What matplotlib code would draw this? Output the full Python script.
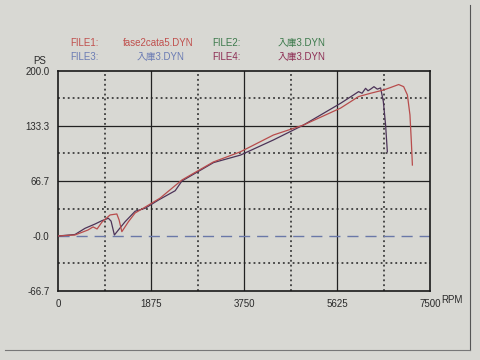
import matplotlib
matplotlib.use("Agg")
import matplotlib.pyplot as plt
from matplotlib.lines import Line2D

plt.rcParams['font.family'] = ['Liberation Sans', 'Noto Sans CJK JP', 'DejaVu Sans']

# ---- data ----
file1_rpm = [0, 343, 606, 707, 788, 889, 1050, 1186, 1232, 1287, 1420, 1555, 1757, 2060,
             2499, 3131, 3676, 4343, 4949, 5696, 6060, 6302, 6565, 6706, 6868, 6969,
             7044, 7096, 7124, 7145]
file1_ps = [0, 1.2, 7.3, 11, 8.5, 17, 25.5, 26.7, 19.4, 5.2, 17.3, 27.9, 35, 46,
            67.9, 89.7, 102, 122.4, 134.5, 155, 169, 173, 177, 180, 183.6, 181,
            171, 146.7, 114, 86]

file4_rpm = [0, 343, 545, 747, 883, 1016, 1070, 1137, 1218, 1353, 1555, 1757, 2026, 2363,
             2499, 3137, 3676, 4343, 4949, 5696, 5959, 6060, 6130, 6201, 6250, 6302,
             6370, 6437, 6504, 6559, 6605, 6640]
file4_ps = [0, 1.8, 9.3, 14.5, 18.5, 21.5, 18, 1.2, 7.3, 17.3, 30, 33.6, 43.6, 54.9,
            66.7, 89, 98, 116.4, 134.5, 160.8, 171, 175, 173, 179, 176, 178,
            181, 178, 179.5, 163, 134.5, 102]

x_ticks = [0, 1875, 3750, 5625, 7500]
x_labels = ["0", "1875", "3750", "5625", "7500"]
y_ticks = [-66.7, 0, 66.7, 133.3, 200.0]
y_labels = ["-66.7", "-0.0", "66.7", "133.3", "200.0"]

legend_names = ["FILE1:", "FILE2:", "FILE3:", "FILE4:"]
legend_files = ["fase2cata5.DYN", "入庫3.DYN", "入庫3.DYN", "入庫3.DYN"]

# ---- style ----
bg = '#d8d8d3'
c_red = '#b84c4c'
c_dark = '#4c3358'
leg_colors = ['#c0504d', '#3d7a4c', '#6b7cb4', '#8e2f55']
txt = '#2a2a2a'

fig = plt.figure(figsize=(4.8, 3.6), dpi=100, facecolor=bg)
ax = fig.add_axes([58/480, 69/360, 372/480, 220/360])
ax.set_facecolor(bg)

ax.set_xlim(0, 7500)
ax.set_ylim(-66.7, 200)

# grid: solid majors, dotted halves
for xv in x_ticks[1:-1]:
    ax.axvline(xv, color='#222222', lw=0.9, zorder=1)
for xv in [937.5, 2812.5, 4687.5, 6562.5]:
    ax.axvline(xv, color='#222222', lw=1.1, ls=(0, (1.2, 2.0)), zorder=1)
for yv in [66.7, 133.3]:
    ax.axhline(yv, color='#222222', lw=0.9, zorder=1)
for yv in [-33.3, 33.3, 100, 166.7]:
    ax.axhline(yv, color='#222222', lw=1.1, ls=(0, (1.2, 2.0)), zorder=1)
ax.axhline(0, color='#6a78a8', lw=1.0, ls=(0, (8, 5)), zorder=2)

ax.plot(file4_rpm, file4_ps, color=c_dark, lw=0.9, zorder=3)
ax.plot(file1_rpm, file1_ps, color=c_red, lw=0.9, zorder=4)

for s in ax.spines.values():
    s.set_color('#1a1a1a')
    s.set_linewidth(1.2)

ax.set_xticks(x_ticks)
ax.set_xticklabels(x_labels)
ax.set_yticks(y_ticks)
ax.set_yticklabels(y_labels)
ax.tick_params(length=0, labelsize=7, colors=txt, pad=6)

fig.text(452/480, 1 - 300/360, "RPM", fontsize=7, color=txt, ha='center', va='center')
fig.text(40/480, 1 - 61/360, "PS", fontsize=7, color=txt, ha='center', va='center')

# legend header
pos = [(70, 43), (212, 43), (70, 57), (212, 57)]
fpos = [(123, 43), (278, 43), (137, 57), (278, 57)]
for i in range(4):
    fig.text(pos[i][0]/480, 1 - pos[i][1]/360, legend_names[i], fontsize=7,
             color=leg_colors[i], ha='left', va='center')
    fig.text(fpos[i][0]/480, 1 - fpos[i][1]/360, legend_files[i], fontsize=7,
             color=leg_colors[i], ha='left', va='center')

# paper frame edges
fig.add_artist(Line2D([470/480, 470/480], [1 - 5/360, 1 - 350/360], color='#555555', lw=0.8))
fig.add_artist(Line2D([5/480, 470/480], [1 - 350/360, 1 - 350/360], color='#777777', lw=0.8))

fig.savefig("out.png", dpi=100, facecolor=bg)
